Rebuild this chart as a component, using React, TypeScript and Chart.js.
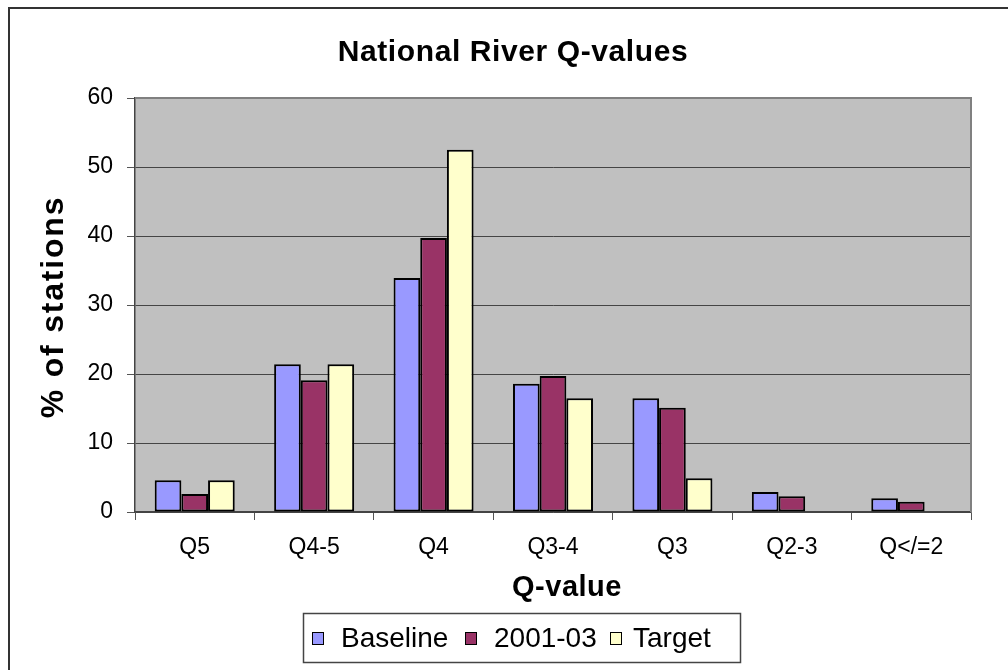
import React, { useEffect, useRef } from "react";
import { Chart, registerables } from "chart.js";

Chart.register(...registerables);

const categories = ["Q5", "Q4-5", "Q4", "Q3-4", "Q3", "Q2-3", "Q</=2"];
const baselineValues = [4.6, 21.4, 33.9, 18.6, 16.5, 2.9, 2.0];
const period2001Values = [2.6, 19.1, 39.7, 19.7, 15.1, 2.3, 1.5];
const targetValues: (number | null)[] = [4.6, 21.4, 52.5, 16.5, 4.9, null, null];
const yTickValues = [0, 10, 20, 30, 40, 50, 60];
const seriesNames = ["Baseline", "2001-03", "Target"];
const seriesColors = ["#9999FF", "#993366", "#FFFFCC"];
const chartTitle = "National River Q-values";
const xTitle = "Q-value";
const yTitle = "% of stations";

const FONT = '"Liberation Sans", Arial, Helvetica, sans-serif';

const decorPlugin = {
  id: "decor",
  beforeDraw(chart: any) {
    const { ctx, chartArea: a } = chart;
    ctx.save();
    ctx.fillStyle = "#ffffff";
    ctx.fillRect(0, 0, chart.width, chart.height);
    ctx.fillStyle = "#C0C0C0";
    ctx.fillRect(a.left, a.top, a.right - a.left, a.bottom - a.top);
    ctx.restore();
  },
  afterDraw(chart: any) {
    const { ctx, chartArea: a } = chart;
    ctx.save();
    // plot area top/right border
    ctx.strokeStyle = "#808080";
    ctx.lineWidth = 2;
    ctx.beginPath();
    ctx.moveTo(a.left, a.top);
    ctx.lineTo(a.right, a.top);
    ctx.lineTo(a.right, a.bottom);
    ctx.stroke();

    // outer frame (top & left visible)
    ctx.fillStyle = "#333333";
    ctx.fillRect(8, 7, 2, chart.height - 7);
    ctx.fillRect(8, 7, chart.width - 8, 2);

    // title
    ctx.fillStyle = "#000";
    ctx.font = `bold 30px ${FONT}`;
    (ctx as any).letterSpacing = "0.6px";
    ctx.textAlign = "center";
    ctx.textBaseline = "alphabetic";
    ctx.fillText(chartTitle, 513, 61);

    // x title
    ctx.font = `bold 29px ${FONT}`;
    (ctx as any).letterSpacing = "0.5px";
    ctx.fillText(xTitle, 567, 596);

    // y title
    ctx.save();
    ctx.translate(63, 307);
    ctx.rotate(-Math.PI / 2);
    ctx.font = `bold 32px ${FONT}`;
    (ctx as any).letterSpacing = "1.8px";
    ctx.fillText(yTitle, 0, 0);
    ctx.restore();

    // legend
    (ctx as any).letterSpacing = "0px";
    ctx.strokeStyle = "#444444";
    ctx.lineWidth = 1.5;
    ctx.strokeRect(303.5, 613.5, 437, 49);
    const boxX = [312, 465, 610];
    const textX = [341, 494, 633];
    ctx.font = `28px ${FONT}`;
    ctx.textAlign = "left";
    seriesNames.forEach((name, i) => {
      ctx.fillStyle = seriesColors[i];
      ctx.fillRect(boxX[i], 632, 12, 13);
      ctx.strokeStyle = "#000";
      ctx.lineWidth = 1;
      ctx.strokeRect(boxX[i] + 0.5, 632.5, 11, 12);
      ctx.fillStyle = "#000";
      ctx.fillText(name, textX[i], 647);
    });
    ctx.restore();
  },
};

export default function App() {
  const ref = useRef<HTMLCanvasElement | null>(null);
  useEffect(() => {
    if (!ref.current) return;
    const seriesData = [baselineValues, period2001Values, targetValues];
    const chart = new Chart(ref.current, {
      type: "bar",
      data: {
        labels: categories,
        datasets: seriesNames.map((name, i) => ({
          label: name,
          data: seriesData[i] as any,
          backgroundColor: seriesColors[i],
          borderColor: "#000000",
          borderWidth: 2,
          borderSkipped: false,
          categoryPercentage: 0.67,
          barPercentage: 1.0,
        })),
      },
      options: {
        animation: false,
        responsive: false,
        devicePixelRatio: 1,
        layout: { padding: { top: 98, right: 37, left: 0, bottom: 0 } },
        plugins: {
          legend: { display: false },
          title: { display: false },
          tooltip: { enabled: false },
        },
        scales: {
          x: {
            type: "category",
            grid: {
              offset: true,
              drawOnChartArea: false,
              drawTicks: true,
              tickLength: 8,
              tickColor: "#555555",
              lineWidth: 1,
            },
            border: { display: true, color: "#444444", width: 1.5 },
            ticks: {
              color: "#000",
              font: { family: FONT, size: 23 },
              padding: 14,
              maxRotation: 0,
              autoSkip: false,
            },
            afterFit: (s: any) => {
              s.height = 158;
            },
          },
          y: {
            min: 0,
            max: 60,
            afterBuildTicks: (s: any) => {
              s.ticks = yTickValues.map((v) => ({ value: v }));
            },
            grid: {
              color: "#454545",
              lineWidth: 1,
              drawTicks: true,
              tickLength: 8,
              tickColor: "#555555",
            },
            border: { display: true, color: "#444444", width: 1.5 },
            ticks: {
              color: "#000",
              font: { family: FONT, size: 23 },
              padding: 14,
            },
            afterFit: (s: any) => {
              s.width = 135;
            },
          },
        },
      },
      plugins: [decorPlugin],
    });
    return () => chart.destroy();
  }, []);

  return (
    <div style={{ position: "absolute", left: 0, top: 0, width: 1008, height: 670 }}>
      <canvas ref={ref} width={1008} height={670} style={{ width: 1008, height: 670, display: "block" }} />
    </div>
  );
}
